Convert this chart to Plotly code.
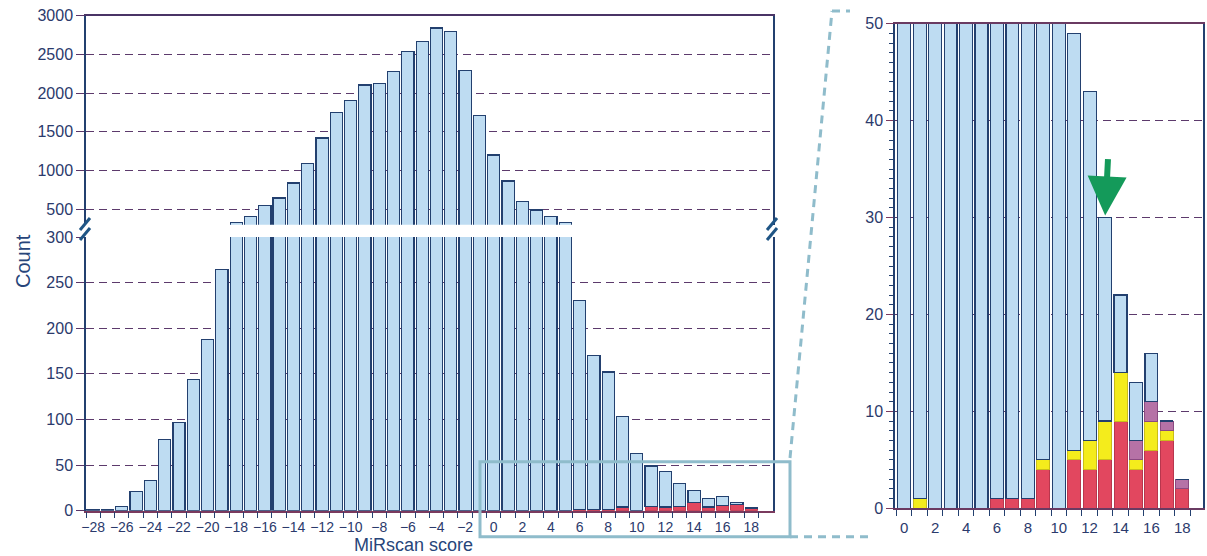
import plotly.graph_objects as go

# MiRscan score bins and counts
scores = list(range(-28, 19))
total_counts = [1, 1, 5, 21, 33, 78, 97, 144, 188, 264,
                325, 410, 550, 645, 840, 1090, 1420, 1755, 1910, 2105,
                2125, 2280, 2535, 2670, 2840, 2800, 2290, 1715,
                1200, 865, 600, 490, 410, 325, 230, 170, 152, 103,
                63, 49, 43, 30, 22, 13, 16, 9, 3]

# highlighted sub-counts for scores 0..18
zoom_scores = list(range(0, 19))
red_counts = [0, 0, 0, 0, 0, 0, 1, 1, 1, 4, 0, 5, 4, 5, 9, 4, 6, 7, 2]
yellow_counts = [0, 1, 0, 0, 0, 0, 0, 0, 0, 1, 0, 1, 3, 4, 5, 1, 3, 1, 0]
purple_counts = [0, 0, 0, 0, 0, 0, 0, 0, 0, 0, 0, 0, 0, 0, 0, 2, 2, 1, 1]

lower_ticks = [0, 50, 100, 150, 200, 250, 300]
upper_ticks = [500, 1000, 1500, 2000, 2500, 3000]
zoom_ticks = [0, 10, 20, 30, 40, 50]

W, H = 1207, 556
NAVY = "#23406f"
TXT = "#2b3a6c"
GRID = "#5c3a6c"
BLUE = "#bedcf2"
RED = "#e2475f"
YEL = "#f4ec1c"
PUR = "#b672a6"
BOX = "#8fbccb"
FONT = "Liberation Sans, Arial, sans-serif"


def px_x(v):
    return v / W


def px_y(v):
    return 1 - v / H


# full-range arrays: the overview shows the red layer on top of the totals
n_neg = len(scores) - len(zoom_scores)
red_full = [0] * n_neg + red_counts
rest_full = [t - r for t, r in zip(total_counts, red_full)]
total_zoom = total_counts[n_neg:]
rest_zoom = [t - r - y - p for t, r, y, p in zip(total_zoom, red_counts, yellow_counts, purple_counts)]

fig = go.Figure()

line_navy = dict(color=NAVY, width=1.2)
W_LEFT, W_RIGHT = 0.85, 0.84


def bar(xs, ys, color, line, xa, ya, width):
    fig.add_trace(go.Bar(x=xs, y=ys, width=width, marker=dict(color=color, line=line),
                         xaxis=xa, yaxis=ya, showlegend=False, hoverinfo="x+y"))


# left panel, lower section (0-300)
bar(scores, red_full, RED, dict(color="#b8364d", width=1), "x", "y", W_LEFT)
bar(scores, rest_full, BLUE, line_navy, "x", "y", W_LEFT)
# left panel, upper section (300-3000)
bar(scores, total_counts, BLUE, line_navy, "x2", "y2", W_LEFT)
# right panel, magnified tail (0-50)
bar(zoom_scores, red_counts, RED, dict(color="#b8364d", width=1), "x3", "y3", W_RIGHT)
bar(zoom_scores, yellow_counts, YEL, dict(color="#c9bd1a", width=1), "x3", "y3", W_RIGHT)
bar(zoom_scores, purple_counts, PUR, dict(color="#8a4a80", width=1), "x3", "y3", W_RIGHT)
bar(zoom_scores, rest_zoom, BLUE, line_navy, "x3", "y3", W_RIGHT)

left_dom = [px_x(86), px_x(772.7)]
right_dom = [px_x(895), px_x(1203.3)]

tickfont_xl = dict(family=FONT, size=14, color=TXT)
tickfont_xr = dict(family=FONT, size=15, color=TXT)
tickfont_y = dict(family=FONT, size=16, color=TXT)
grid = dict(showgrid=True, gridcolor=GRID, griddash="8px,5px", gridwidth=1.4)

fig.update_layout(
    width=W, height=H,
    margin=dict(l=0, r=0, t=0, b=0, pad=0),
    paper_bgcolor="white", plot_bgcolor="white",
    barmode="stack",
    font=dict(family=FONT, color=TXT),
    xaxis=dict(domain=left_dom, anchor="y", range=[-28.5, 19.5], automargin=False,
               tickmode="array", tickvals=list(range(-28, 19, 2)),
               ticks="", showgrid=False, zeroline=False,
               showline=True, linecolor="#7a3a5e", linewidth=1.5,
               tickfont=tickfont_xl, ticklabelstandoff=3,
               minor=dict(tickmode="array", tickvals=[s + 0.5 for s in range(-29, 19)],
                          ticks="outside", ticklen=6, tickcolor=NAVY, tickwidth=1.3)),
    yaxis=dict(domain=[px_y(510.7), px_y(237)], anchor="x", range=[0, 300], automargin=False,
               tickmode="array", tickvals=lower_ticks,
               ticks="outside", ticklen=8, tickcolor="#5a3668", tickwidth=1.3,
               zeroline=False, showline=True, mirror=True, linecolor=NAVY, linewidth=1.5,
               tickfont=tickfont_y, **grid),
    xaxis2=dict(domain=left_dom, anchor="y2", matches="x", side="top", automargin=False,
                showticklabels=False, ticks="", showgrid=False, zeroline=False,
                showline=True, linecolor="#4a3466", linewidth=1.5),
    yaxis2=dict(domain=[px_y(224.8), px_y(15.7)], anchor="x2", range=[300, 3000],
                automargin=False, tickmode="array", tickvals=upper_ticks,
                ticks="outside", ticklen=8, tickcolor="#5a3668", tickwidth=1.3,
                zeroline=False, showline=True, mirror=True, linecolor=NAVY, linewidth=1.5,
                tickfont=tickfont_y, **grid),
    xaxis3=dict(domain=right_dom, anchor="y3", range=[-0.6, 19.36], automargin=False,
                tickmode="array", tickvals=list(range(0, 19, 2)),
                ticks="", showgrid=False, zeroline=False,
                showline=True, mirror=True, linecolor="#6a3a62", linewidth=1.5,
                tickfont=tickfont_xr, ticklabelstandoff=5,
                minor=dict(tickmode="array", tickvals=[s + 0.5 for s in range(-1, 19)],
                           ticks="outside", ticklen=6, tickcolor=NAVY, tickwidth=1.3)),
    yaxis3=dict(domain=[px_y(508.3), px_y(23.7)], anchor="x3", range=[0, 50], automargin=False,
                tickmode="array", tickvals=zoom_ticks,
                ticks="outside", ticklen=7, tickcolor="#7a3a5e", tickwidth=1.3,
                zeroline=False, showline=True, mirror=True, linecolor=NAVY, linewidth=1.5,
                tickfont=tickfont_y, **grid,
                minor=dict(tickmode="linear", tick0=0, dtick=1, ticks="outside",
                           ticklen=4, tickcolor=NAVY, tickwidth=1.2, showgrid=False)),
)

# axis titles
fig.add_annotation(text="Count", xref="paper", yref="paper", x=px_x(23), y=px_y(261),
                   xanchor="center", yanchor="middle",
                   textangle=-90, showarrow=False,
                   font=dict(family=FONT, size=20, color="#27457a"))
fig.add_annotation(text="MiRscan score", xref="paper", yref="paper", x=px_x(413), y=px_y(545),
                   xanchor="center", yanchor="middle",
                   showarrow=False, font=dict(family=FONT, size=18, color="#27457a"))

# green arrow marking the score-13 bin
fig.add_annotation(x=13, y=30, xref="x3", yref="y3", ax=3, ay=-60, axref="pixel", ayref="pixel",
                   text="", showarrow=True, arrowhead=2, arrowsize=1.3, arrowwidth=6,
                   arrowcolor="#149a5a", standoff=2)

shapes = []
# axis-break marks on the left and right edges of the left panel
for cx in (85, 772):
    for cy in (224, 234):
        shapes.append(dict(type="line", xref="paper", yref="paper",
                           x0=px_x(cx - 5), y0=px_y(cy + 6), x1=px_x(cx + 5), y1=px_y(cy - 6),
                           line=dict(color="#1f5585", width=3)))
# magnification box and its connector lines
shapes.append(dict(type="rect", xref="paper", yref="paper",
                   x0=px_x(480), y0=px_y(536.7), x1=px_x(790), y1=px_y(461.7),
                   line=dict(color=BOX, width=3)))
shapes.append(dict(type="line", xref="paper", yref="paper",
                   x0=px_x(790), y0=px_y(458), x1=px_x(832), y1=px_y(11),
                   line=dict(color=BOX, width=3, dash="8px,6px")))
shapes.append(dict(type="line", xref="paper", yref="paper",
                   x0=px_x(832), y0=px_y(11), x1=px_x(850), y1=px_y(11),
                   line=dict(color=BOX, width=3, dash="8px,6px")))
shapes.append(dict(type="line", xref="paper", yref="paper",
                   x0=px_x(790), y0=px_y(536.7), x1=px_x(874), y1=px_y(536.7),
                   line=dict(color=BOX, width=3, dash="8px,6px")))
fig.update_layout(shapes=shapes)

fig.write_html("out.html")
